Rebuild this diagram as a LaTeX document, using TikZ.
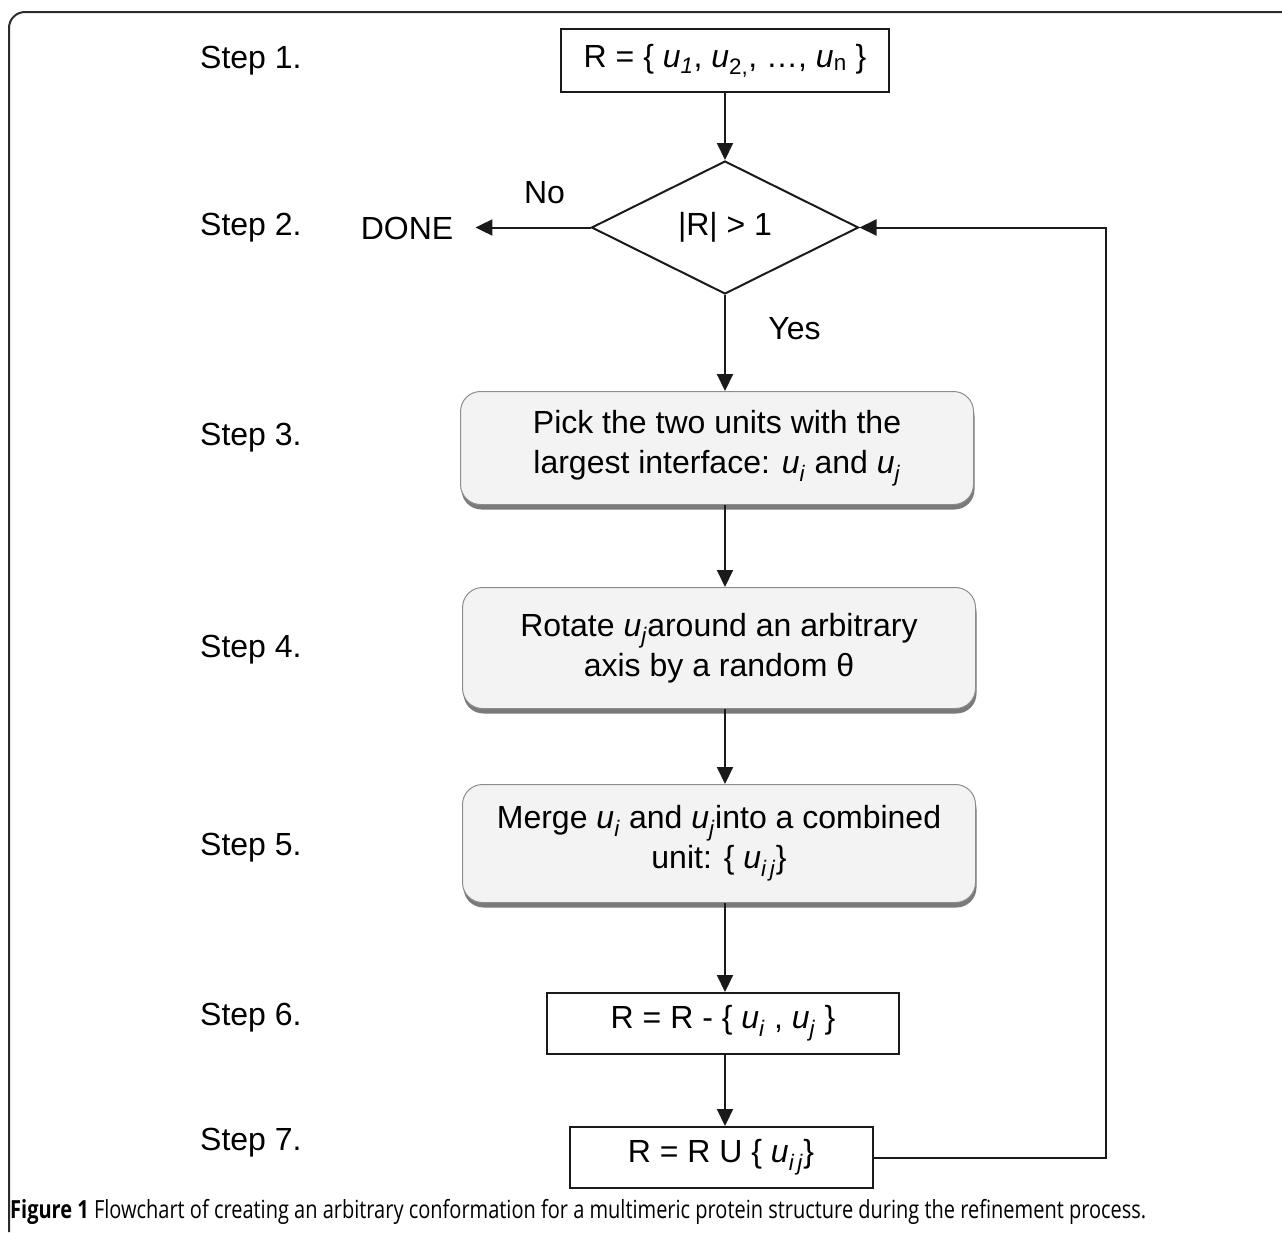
\documentclass[tikz,border=0pt]{standalone}
\usepackage{fontspec}
\setmainfont{Liberation Sans}
\newfontfamily\capfont[FakeStretch=0.8]{Open Sans}
\usetikzlibrary{positioning,shapes.geometric,shadows,arrows.meta}
\definecolor{FlowLine}{HTML}{1A1A1A}
\definecolor{FlowFill}{HTML}{F3F3F3}
\definecolor{FlowShadow}{HTML}{4D4D4D}
\definecolor{FrameLine}{HTML}{2B2B2B}
\newcommand{\uu}[1]{\textit{u}\textsubscript{#1}}

\begin{document}
\begin{tikzpicture}[x=1pt,y=-1pt,>={Triangle[length=17pt,width=16pt]},
    font=\fontsize{32}{40}\selectfont]
  \tikzstyle{plain}=[draw=FlowLine,line width=2pt,fill=white,
    minimum height=61pt,inner sep=0pt]
  \tikzstyle{soft}=[draw=FlowLine!50,line width=1pt,fill=FlowFill,
    rounded corners=20pt,align=center,minimum width=513pt,
    drop shadow={shadow xshift=1pt,shadow yshift=-5pt,
      fill=FlowShadow,opacity=.75}]
  \tikzstyle{flow}=[->,draw=FlowLine,line width=2pt]
  \useasboundingbox (0,0) rectangle (1282,1232);
  \draw[FrameLine,line width=2pt,rounded corners=16pt] (9,1232) -- (9,12) -- (1282,12);

  % step labels
  \foreach \n/\y in {1/61,2/228,3/438,4/650,5/848,6/1018,7/1143}
    \node[anchor=west,inner sep=0pt] (s\n) at (200,\y) {Step \n.};

  % flow
  \node[plain,minimum width=328pt,minimum height=63pt] (a) at (725,60.5)
    {R = \{ \uu{\textit{1}}, \uu{2,}, …, \uu{n} \}};
  \node[diamond,draw=FlowLine,line width=2pt,aspect=2,inner sep=0pt,
    minimum width=267pt,minimum height=133pt,below=67pt of a] (b) {|R| > 1};
  \node[inner xsep=22pt,inner ysep=0pt] (done) at (407,228) {DONE};
  \node[soft,minimum height=113pt,below=96pt of b,xshift=-8pt] (c)
    {Pick the two units with the\\largest interface: \uu{\textit{i}} and \uu{\textit{j}}};
  \node[soft,minimum height=121pt,below=82pt of c,xshift=2pt] (d)
    {Rotate \uu{\textit{j}}around an arbitrary\\axis by a random θ};
  \node[soft,minimum height=118pt,below=75pt of d] (e)
    {Merge \uu{\textit{i}} and \uu{\textit{j}}into a combined\\unit: \{ \uu{\textit{i\,j}}\}};
  \node[plain,minimum width=352pt,below=89pt of e,xshift=4pt] (f)
    {R = R - \{ \uu{\textit{i}} , \uu{\textit{j}} \}};
  \node[plain,minimum width=303pt,below=71pt of f,xshift=-2pt] (g)
    {R = R U \{ \uu{\textit{i\,j}}\}};

  \draw[flow] (a) -- (b);
  \draw[flow] (b.west) -- (b.west -| done.east) node[pos=0.4,above=19pt] (no) {No};
  \draw[flow] (b.south) -- (b.south |- c.north)
    node[pos=0.35,right=39pt] (yes) {Yes};
  \draw[flow] (c.south -| a) -- (d.north -| a);
  \draw[flow] (d.south -| a) -- (e.north -| a);
  \draw[flow] (e.south -| a) -- (f.north -| a);
  \draw[flow] (f.south -| a) -- (g.north -| a);
  \draw[flow] (g.east) -- ++(232,0) |- (b.east);

  \node[anchor=west,inner sep=0pt,font=\capfont\fontsize{25}{30}\selectfont] (cap) at (10,1212)
    {\textbf{Figure 1} Flowchart of creating an arbitrary conformation for a multimeric protein structure during the refinement process.};
\end{tikzpicture}
\end{document}
